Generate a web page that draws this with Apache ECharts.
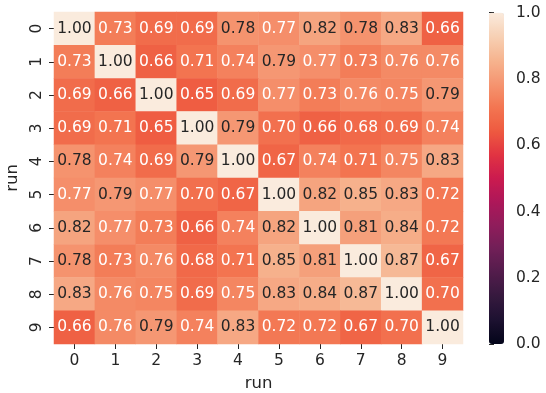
<!DOCTYPE html>
<html>
<head>
<meta charset="utf-8">
<script src="https://cdn.jsdelivr.net/npm/echarts@6/dist/echarts.min.js"></script>
<style>
  html, body { margin: 0; padding: 0; background: #fff; }
  #chart { width: 546px; height: 393px; }
</style>
</head>
<body>
<div id="chart"></div>
<script>
// run labels on both axes
const runs = ['0', '1', '2', '3', '4', '5', '6', '7', '8', '9'];

// correlation matrix, row by row (row 0 at top)
const row0 = [1.00, 0.73, 0.69, 0.69, 0.78, 0.77, 0.82, 0.78, 0.83, 0.66];
const row1 = [0.73, 1.00, 0.66, 0.71, 0.74, 0.79, 0.77, 0.73, 0.76, 0.76];
const row2 = [0.69, 0.66, 1.00, 0.65, 0.69, 0.77, 0.73, 0.76, 0.75, 0.79];
const row3 = [0.69, 0.71, 0.65, 1.00, 0.79, 0.70, 0.66, 0.68, 0.69, 0.74];
const row4 = [0.78, 0.74, 0.69, 0.79, 1.00, 0.67, 0.74, 0.71, 0.75, 0.83];
const row5 = [0.77, 0.79, 0.77, 0.70, 0.67, 1.00, 0.82, 0.85, 0.83, 0.72];
const row6 = [0.82, 0.77, 0.73, 0.66, 0.74, 0.82, 1.00, 0.81, 0.84, 0.72];
const row7 = [0.78, 0.73, 0.76, 0.68, 0.71, 0.85, 0.81, 1.00, 0.87, 0.67];
const row8 = [0.83, 0.76, 0.75, 0.69, 0.75, 0.83, 0.84, 0.87, 1.00, 0.70];
const row9 = [0.66, 0.76, 0.79, 0.74, 0.83, 0.72, 0.72, 0.67, 0.70, 1.00];
const rows = [row0, row1, row2, row3, row4, row5, row6, row7, row8, row9];

// colorbar ticks
const cbarTicks = [0.0, 0.2, 0.4, 0.6, 0.8, 1.0];

// rocket colormap, evenly spaced stops from 0 to 1
const rocket = ['#03051a', '#1c1130', '#35193e', '#521c4b', '#701f57', '#8f1d5b',
  '#ad1759', '#cb1b4f', '#e13342', '#ee5a40', '#f37651', '#f59571',
  '#f6b48f', '#f7d0b4', '#faebdd'];

const FONT = 'DejaVu Sans';
const INK = '#262626';

const cells = [];
rows.forEach((r, yi) => {
  r.forEach((v, xi) => {
    cells.push({
      value: [xi, yi, v],
      // seaborn switches to dark text on light cells
      label: { color: v >= 0.775 ? INK : '#ffffff' }
    });
  });
});

const chart = echarts.init(document.getElementById('chart'), null, { renderer: 'canvas' });

const option = {
  animation: false,
  backgroundColor: '#ffffff',
  textStyle: { fontFamily: FONT },
  grid: [
    { left: 54, top: 12, width: 409, height: 332, outerBoundsMode: 'none', containLabel: false },
    { left: 489, top: 12.7, width: 15, height: 331.3, outerBoundsMode: 'none', containLabel: false }
  ],
  xAxis: [{
    type: 'category',
    gridIndex: 0,
    data: runs,
    name: 'run',
    nameLocation: 'middle',
    nameGap: 31,
    nameTextStyle: { fontSize: 16.5, color: INK, fontFamily: FONT },
    axisLine: { show: false },
    axisTick: { show: true, alignWithLabel: true, length: 5, lineStyle: { color: INK } },
    axisLabel: { fontSize: 15.5, color: INK, fontFamily: FONT, margin: 9 },
    splitLine: { show: false }
  }, {
    type: 'value',
    gridIndex: 1,
    show: false,
    min: 0,
    max: 1
  }],
  yAxis: [{
    type: 'category',
    gridIndex: 0,
    data: runs,
    inverse: true,
    name: 'run',
    nameLocation: 'middle',
    nameGap: 32,
    nameRotate: 90,
    nameTextStyle: { fontSize: 16.5, color: INK, fontFamily: FONT },
    axisLine: { show: false },
    axisTick: { show: true, alignWithLabel: true, length: 5, lineStyle: { color: INK } },
    axisLabel: { fontSize: 15.5, color: INK, fontFamily: FONT, rotate: 90, margin: 9 },
    splitLine: { show: false }
  }, {
    type: 'value',
    gridIndex: 1,
    position: 'right',
    min: 0,
    max: 1,
    interval: 0.2,
    axisLine: { show: false },
    axisTick: { show: true, length: 5, lineStyle: { color: INK } },
    axisLabel: {
      fontSize: 15.5, color: INK, fontFamily: FONT, margin: 12,
      formatter: v => cbarTicks.includes(+v.toFixed(1)) ? v.toFixed(1) : ''
    },
    splitLine: { show: false }
  }],
  visualMap: {
    type: 'continuous',
    min: 0,
    max: 1,
    seriesIndex: 0,
    calculable: false,
    hoverLink: false,
    orient: 'vertical',
    left: 489,
    top: 12.7,
    padding: 0,
    itemWidth: 15,
    itemHeight: 331.3,
    text: null,
    inRange: { color: rocket }
  },
  series: [{
    type: 'heatmap',
    xAxisIndex: 0,
    yAxisIndex: 0,
    data: cells,
    label: {
      show: true,
      fontSize: 15.5,
      fontFamily: FONT,
      formatter: p => p.value[2].toFixed(2)
    },
    itemStyle: { borderWidth: 0 },
    emphasis: { disabled: true }
  }]
};

chart.setOption(option);
</script>
</body>
</html>
